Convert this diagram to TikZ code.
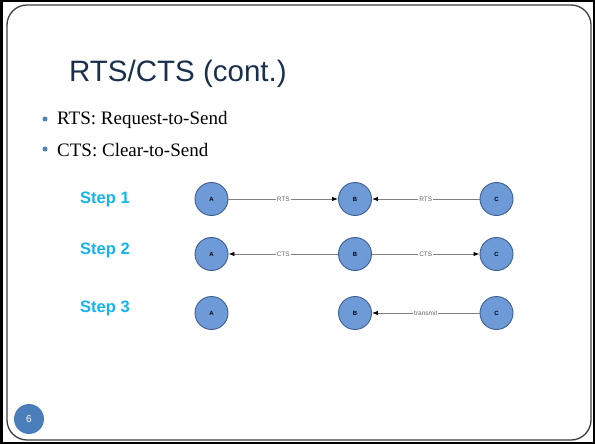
\documentclass[tikz,border=0pt]{standalone}
\usepackage{fontspec}
\setmainfont{Liberation Serif}
\setsansfont{Liberation Sans}
\usetikzlibrary{arrows.meta}
\definecolor{titlecol}{HTML}{1B2F4F}
\definecolor{bulletcol}{HTML}{4F81BD}
\definecolor{stepcol}{HTML}{14B4EC}
\definecolor{nodefill}{HTML}{6E9AD8}
\definecolor{nodeedge}{HTML}{3D5F8F}
\definecolor{pagecol}{HTML}{4A7EBB}
\tikzset{
  net/.style={circle, draw=nodeedge, line width=0.9pt, fill=nodefill, minimum size=33pt, inner sep=0pt, font=\sffamily\bfseries\fontsize{6}{7}\selectfont, text=black},
  link/.style={draw=black!50, line width=0.9pt, -{Latex[black,length=6pt,width=4.5pt]}},
  lbl/.style={fill=white, inner sep=1pt, font=\sffamily\fontsize{6.5}{7}\selectfont, text=black!60},
  steplbl/.style={anchor=west, font=\sffamily\bfseries\fontsize{16.5}{18}\selectfont, text=stepcol},
  bullettext/.style={anchor=west, font=\fontsize{19}{22}\selectfont, text=black},
  bulletdot/.style={circle, fill=bulletcol, minimum size=5pt, inner sep=0pt}
}
\begin{document}
\begin{tikzpicture}[x=1pt, y=-1pt]
\useasboundingbox (0,0) rectangle (595,444);
\fill[white] (0,0) rectangle (595,444);
% frames
\draw[black, line width=2.5pt] (1.25,1.25) rectangle (593.75,442.75);
\draw[black!75, line width=1.3pt, rounded corners=20pt] (7,5) rectangle (591,440);
% title
\node[anchor=west, font=\sffamily\fontsize{29.5}{34}\selectfont, text=titlecol, inner sep=0pt] (title) at (69,74) {RTS/CTS (cont.)};
% bullets
\node[bulletdot] (b1) at (45,119) {};
\node[bullettext, inner sep=0pt] (t1) at (57,120) {RTS: Request-to-Send};
\node[bulletdot] (b2) at (45,149) {};
\node[bullettext, inner sep=0pt] (t2) at (57,150) {CTS: Clear-to-Send};
% steps
\node[steplbl, inner sep=0pt] (s1) at (80,199) {Step 1};
\node[steplbl, inner sep=0pt] (s2) at (80,250) {Step 2};
\node[steplbl, inner sep=0pt] (s3) at (80,308) {Step 3};
% row 1
\node[net] (a1) at (211.5,199) {A};
\node[net] (m1) at (355,199) {B};
\node[net] (c1) at (496.5,199) {C};
\draw[link] (a1) -- node[lbl] {RTS} (m1);
\draw[link] (c1) -- node[lbl] {RTS} (m1);
% row 2
\node[net] (a2) at (211.5,254) {A};
\node[net] (m2) at (355,254) {B};
\node[net] (c2) at (496.5,254) {C};
\draw[link] (m2) -- node[lbl] {CTS} (a2);
\draw[link] (m2) -- node[lbl] {CTS} (c2);
% row 3
\node[net] (a3) at (211.5,313) {A};
\node[net] (m3) at (355,313) {B};
\node[net] (c3) at (496.5,313) {C};
\draw[link] (c3) -- node[lbl] {transmit} (m3);
% page number
\node[circle, fill=pagecol, minimum size=30pt, inner sep=0pt, text=white, font=\sffamily\fontsize{10}{12}\selectfont] (pg) at (29,419) {6};
\end{tikzpicture}
\end{document}
